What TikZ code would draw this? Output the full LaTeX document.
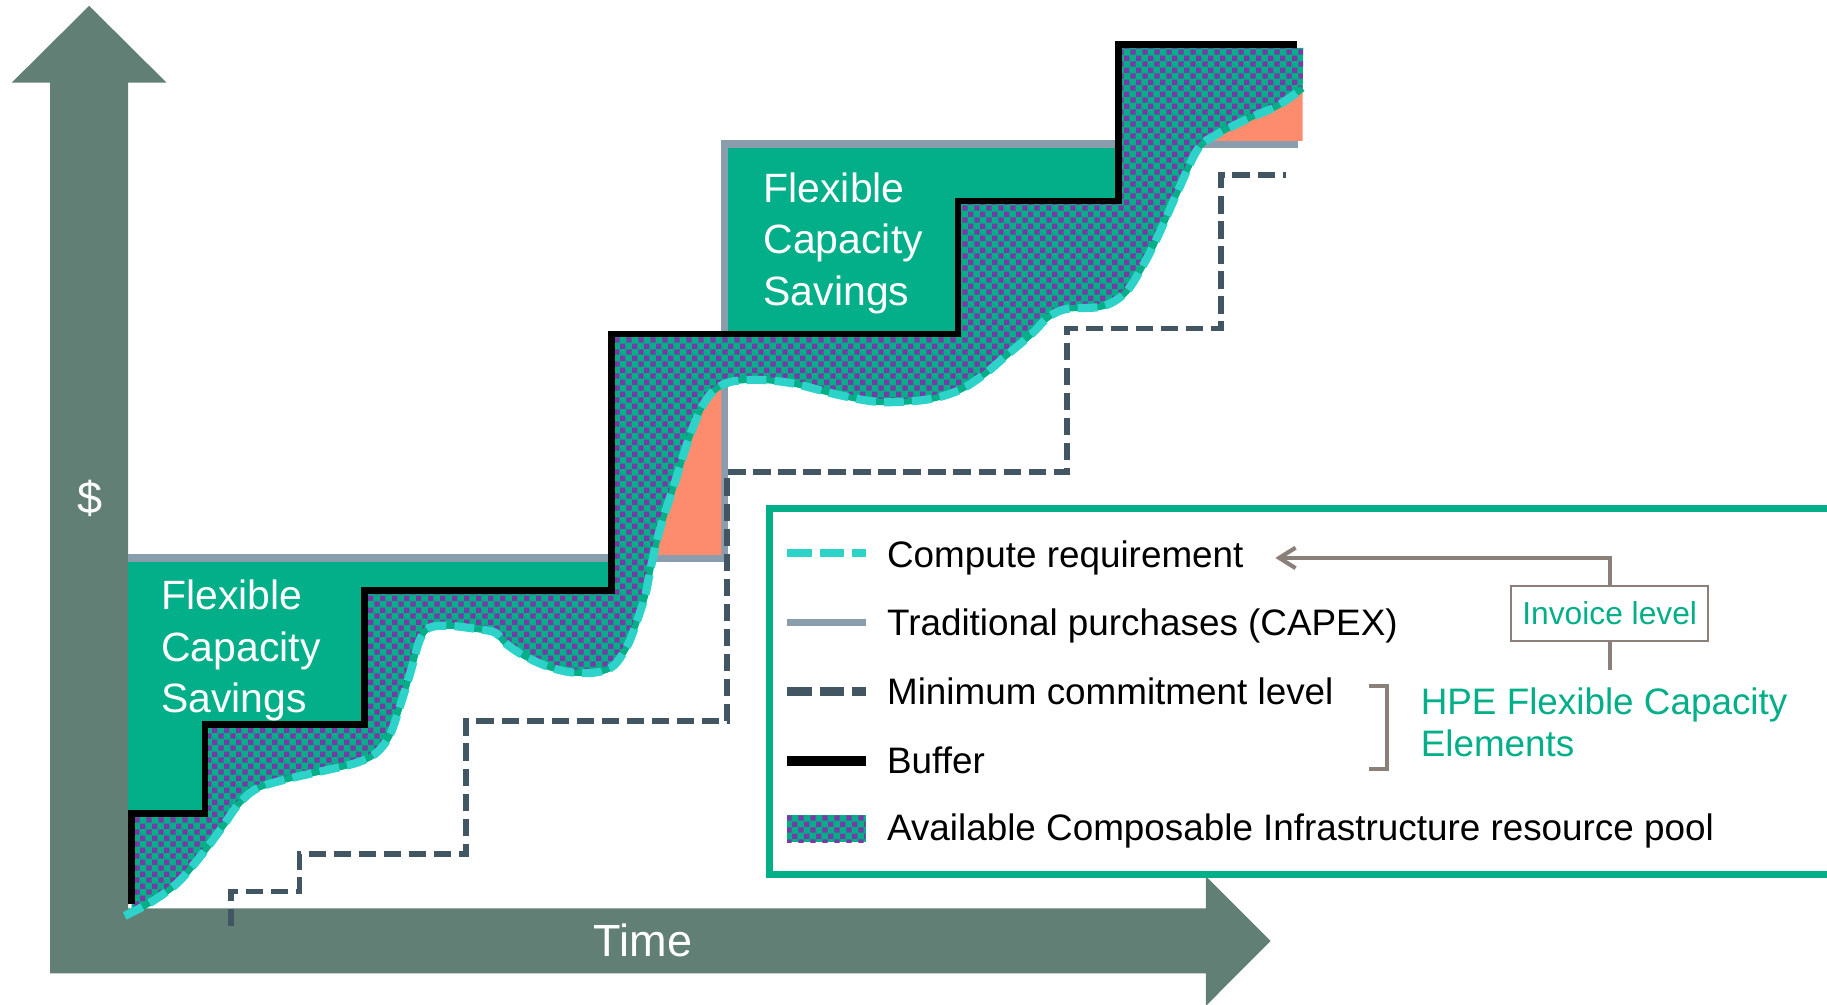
\documentclass[tikz,border=0pt]{standalone}
\usepackage{fontspec}
\setmainfont{Liberation Sans}
\usetikzlibrary{patterns,arrows.meta}
\definecolor{axe}{HTML}{617F75}
\definecolor{vert}{HTML}{02AF88}
\definecolor{trad}{HTML}{8A9DAD}
\definecolor{ardoise}{HTML}{425563}
\definecolor{turquoise}{HTML}{2DD3C8}
\definecolor{saumon}{HTML}{FD8B6D}
\definecolor{pourpre}{HTML}{7A38A8}
\definecolor{renvoi}{HTML}{8B7F79}
% Motif du réservoir
\pgfdeclarepatternformonly{reservoir}{\pgfpointorigin}{\pgfqpoint{6pt}{6pt}}{\pgfqpoint{6pt}{6pt}}{%
  \pgfpathrectangle{\pgfqpoint{0.15pt}{0.15pt}}{\pgfqpoint{2.7pt}{2.7pt}}%
  \pgfpathrectangle{\pgfqpoint{3.15pt}{3.15pt}}{\pgfqpoint{2.7pt}{2.7pt}}%
  \pgfusepath{fill}%
}
\begin{document}
\begin{tikzpicture}[x=0.02cm,y=-0.02cm]
% Styles
\tikzstyle{axe}=[fill=axe]
\tikzstyle{economie}=[fill=vert]
\tikzstyle{achat}=[trad,line width=3.6pt]
\tikzstyle{engagement}=[ardoise,line width=2.8pt,dash pattern=on 0.3cm off 0.13cm]
\tikzstyle{tampon}=[black,line width=3.2pt]
\tikzstyle{besoin}=[turquoise,line width=4pt,dash pattern=on 0.34cm off 0.14cm]
\tikzstyle{reserve}=[preaction={fill=vert},pattern=reservoir,pattern color=pourpre]
\tikzstyle{etiquette}=[white,align=left,anchor=base west,inner sep=0pt,font=\fontsize{20}{25}\selectfont]
\tikzstyle{titre}=[white,font=\fontsize{22}{26}\selectfont]
\tikzstyle{legende}=[anchor=base west,inner sep=0pt,font=\fontsize{18}{20.4}\selectfont]
\tikzstyle{cadre}=[vert,line width=0.13cm,fill=white]
\tikzstyle{fleche}=[-{Straight Barb[length=8pt,width=10pt]}]
\tikzstyle{lien}=[renvoi,line width=2pt]
% Dimensions
\def\legx{761}
\def\symg{675.5}
\def\symd{743}
\def\courbe{plot[smooth,tension=0.55] coordinates {(107,786) (130,774) (152,758) (172,735) (190,711) (204,691) (220,677) (245,669) (280,661) (305,655) (322,647) (334,632) (343,607) (352,578) (360,550) (368,539) (385,537) (410,540) (425,543) (435,553) (450,563) (470,572) (490,577) (512,577) (527,571) (539,553) (547,532) (554,510) (559,485) (567,452) (578,418) (590,380) (601,352) (612,336) (626,328) (650,326) (680,329) (720,339) (755,345) (795,343) (823,335) (845,321) (865,304) (885,287) (900,272) (916,265) (946,263) (966,251) (982,226) (995,200) (1010,166) (1028,128) (1045,115) (1073,101) (1096,91) (1118,76)}}
\useasboundingbox (0,0) rectangle (1568,862);
\clip (0,0) rectangle (1568,862);
% Axes
\fill[axe] (43,835.3) -- (43,71) -- (10,71) -- (76.5,5) -- (143,71) -- (110,71) -- (110,779.5)
  -- (1035,779.5) -- (1035,752) -- (1090.5,807.6) -- (1035,863.2) -- (1035,835.3) -- cycle;
\node[titre] (dollar) at (77,428) {\$};
\node[titre,anchor=base] (temps) at (552,821) {Time};
% Economies
\fill[economie] (110,482) -- (525,482) -- (525,507) -- (313,507) -- (313,622) -- (176,622) -- (176,698) -- (110,698) -- cycle;
\fill[economie] (622,123) -- (960,123) -- (960,172.5) -- (822,172.5) -- (822,286.5) -- (622,286.5) -- cycle;
% Achats traditionnels
\draw[achat] (110,479) -- (622,479) -- (622,123.5) -- (1114,123.5);
% Depassements
\begin{scope}
\clip (520,300) rectangle (619,476);
\fill[saumon] \courbe -- (1118,862) -- (107,862) -- cycle;
\end{scope}
\begin{scope}
\clip (1000,40) rectangle (1118.5,121);
\fill[saumon] \courbe -- (1118,862) -- (107,862) -- cycle;
\end{scope}
% Reserve disponible
\fill[reserve] \courbe -- (1118.5,41) -- (960,41) -- (960,172.5) -- (822,172.5) -- (822,286.5) -- (525,286.5)
  -- (525,507) -- (313,507) -- (313,622) -- (176,622) -- (176,698) -- (113,698) -- (113,786) -- cycle;
% Engagement minimum
\draw[engagement] (198,795) -- (198,765) -- (257,765) -- (257,733) -- (400,733) -- (400,619) -- (624,619)
  -- (624,405) -- (916,405) -- (916,282) -- (1048,282) -- (1048,150) -- (1104,150);
% Tampon
\draw[tampon] (113,776) -- (113,698) -- (176,698) -- (176,622) -- (313,622) -- (313,507) -- (525,507)
  -- (525,286.5) -- (822,286.5) -- (822,172.5) -- (960,172.5) -- (960,38) -- (1113,38);
% Besoin
\draw[vert,line width=3pt] \courbe;
\draw[besoin] \courbe;
% Etiquettes
\node[etiquette] (eco1) at (138,611.3) {Flexible\\Capacity\\Savings};
\node[etiquette] (eco2) at (655,261.8) {Flexible\\Capacity\\Savings};
% Legende
\draw[cadre] (660.3,436.4) rectangle (1600,750.5);
\draw[besoin,dash pattern=on 0.42cm off 0.14cm] (\symg,474.8) -- (\symd,474.8);
\draw[achat] (\symg,534) -- (\symd,534);
\draw[engagement,line width=0.15cm,dash pattern=on 0.42cm off 0.14cm] (\symg,593.6) -- (\symd,593.6);
\draw[tampon,line width=0.17cm] (\symg,653) -- (\symd,653);
\fill[reserve] (\symg,699.5) rectangle (\symd,723);
\node[legende] (lBesoin) at (\legx,487) {Compute requirement};
\node[legende] (lAchat) at (\legx,545) {Traditional purchases (CAPEX)};
\node[legende] (lEngag) at (\legx,605) {Minimum commitment level};
\node[legende] (lTampon) at (\legx,663.7) {Buffer};
\node[legende] (lReserve) at (\legx,721) {Available Composable Infrastructure resource pool};
% Facturation
\node[draw=renvoi,line width=0.8pt,text=vert,minimum width=3.38cm,minimum height=0.94cm,
  font=\fontsize{15.5}{18}\selectfont] (facture) at (1381.5,526.5) {Invoice level};
\node[legende,text=vert,align=left] (hpe) at (1219,649.4) {HPE Flexible Capacity\\Elements};
\draw[lien,fleche,shorten >=0.54cm] (facture.north) |- (lBesoin);
\draw[lien,shorten >=0.3cm] (facture.south) -- (facture.south |- hpe.north);
\draw[lien] (1175,588.5) -- (1190,588.5) -- (1190,660) -- (1175,660);
\end{tikzpicture}
\end{document}
